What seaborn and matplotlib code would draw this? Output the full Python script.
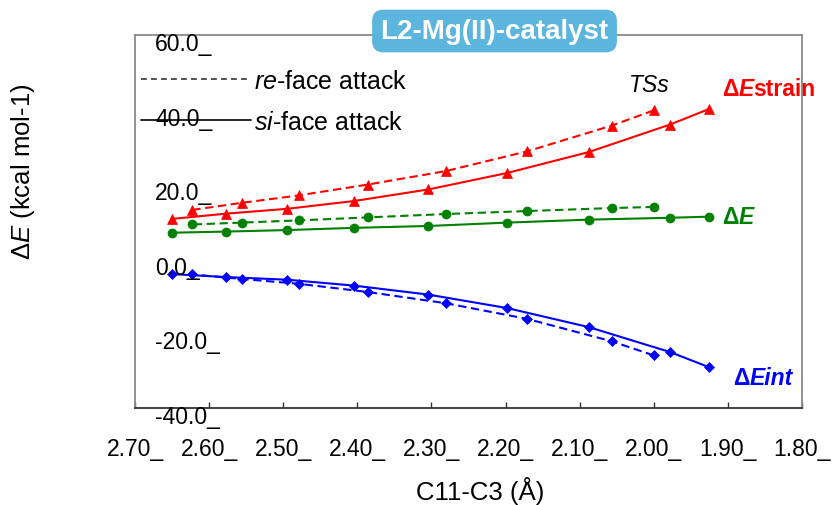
import matplotlib
matplotlib.use("Agg")
import matplotlib.pyplot as plt
import matplotlib.transforms as mtransforms
from matplotlib.lines import Line2D
import pandas as pd
import seaborn as sns

# ---------------- data ----------------
x_si = [2.650, 2.577, 2.495, 2.404, 2.304, 2.198, 2.088, 1.978, 1.925]
x_re = [2.623, 2.556, 2.479, 2.386, 2.281, 2.171, 2.057, 2.000]

strain_si = [10.7, 12.1, 13.4, 15.5, 18.6, 23.0, 28.6, 36.0, 40.2]
strain_re = [13.1, 15.0, 17.0, 19.9, 23.5, 28.8, 35.7, 39.8]
total_si = [7.0, 7.3, 7.7, 8.3, 8.8, 9.7, 10.5, 11.0, 11.3]
total_re = [9.2, 9.7, 10.3, 11.1, 12.0, 12.8, 13.6, 13.9]
int_si = [-4.1, -4.9, -5.6, -7.2, -9.6, -13.2, -18.3, -25.0, -29.1]
int_re = [-4.2, -5.4, -6.7, -8.9, -11.9, -16.1, -22.1, -25.9]

xtick_values = [2.70, 2.60, 2.50, 2.40, 2.30, 2.20, 2.10, 2.00, 1.90, 1.80]
xtick_labels = ["2.70_", "2.60_", "2.50_", "2.40_", "2.30_",
                "2.20_", "2.10_", "2.00_", "1.90_", "1.80_"]
ytick_values = [60, 40, 20, 0, -20, -40]
ytick_labels = ["60.0_", "40.0_", "20.0_", "0.0_", "-20.0_", "-40.0_"]

title_text = "L2-Mg(II)-catalyst"
legend_labels = ["$\\mathit{re}$-face attack", "$\\mathit{si}$-face attack"]

# ---------------- style ----------------
sns.set_style("white")
plt.rcParams["font.family"] = ["Liberation Sans", "DejaVu Sans"]
plt.rcParams["mathtext.fontset"] = "custom"
plt.rcParams["mathtext.rm"] = "Liberation Sans"
plt.rcParams["mathtext.it"] = "Liberation Sans:italic"
plt.rcParams["mathtext.bf"] = "Liberation Sans:bold"
plt.rcParams["text.color"] = "black"
plt.rcParams["axes.labelcolor"] = "black"
plt.rcParams["xtick.color"] = "black"
plt.rcParams["ytick.color"] = "black"

records = []
for comp, si_vals, re_vals in [("strain", strain_si, strain_re),
                               ("total", total_si, total_re),
                               ("int", int_si, int_re)]:
    for x, y in zip(x_si, si_vals):
        records.append({"d": x, "E": y, "comp": comp, "face": "si"})
    for x, y in zip(x_re, re_vals):
        records.append({"d": x, "E": y, "comp": comp, "face": "re"})
df = pd.DataFrame(records)

fig = plt.figure(figsize=(8.32, 5.06), dpi=100)
ax = fig.add_axes([135 / 832, 97 / 506, 667 / 832, 373 / 506])

colors = {"strain": "#FF0000", "total": "#008000", "int": "#0000FF"}
markers = {"strain": "^", "total": "o", "int": "D"}
msize = {"strain": 7.5, "total": 6.5, "int": 5.0}

for comp in ["strain", "total", "int"]:
    sub = df[df["comp"] == comp]
    sns.lineplot(data=sub, x="d", y="E", style="face", style_order=["re", "si"],
                 dashes={"re": (4, 2.2), "si": ""},
                 markers={"re": markers[comp], "si": markers[comp]},
                 color=colors[comp], markersize=msize[comp],
                 markeredgecolor=colors[comp], markeredgewidth=0.5,
                 linewidth=1.5, estimator=None, legend=False, ax=ax)

ax.set_xlim(2.70, 1.80)
ax.set_ylim(-40, 60)

# spines
for side in ["left", "top", "right"]:
    ax.spines[side].set_color("#8a8a8a")
    ax.spines[side].set_linewidth(1.3)
ax.spines["bottom"].set_color("#333333")
ax.spines["bottom"].set_linewidth(1.3)

# x ticks
ax.set_xticks(xtick_values)
ax.set_xticklabels(xtick_labels, fontsize=16.5, color="black")
ax.tick_params(axis="x", direction="in", length=4, width=1, color="#333333",
               pad=21, bottom=True, top=False)

# y ticks: labels drawn inside the frame
ax.set_yticks(ytick_values)
ax.tick_params(axis="y", length=0, labelleft=False, left=False)
ytrans = ax.get_yaxis_transform() + mtransforms.ScaledTranslation(0, -0.15, fig.dpi_scale_trans)
for v, lab in zip(ytick_values, ytick_labels):
    ax.text(0.03, v, lab, transform=ytrans, ha="left", va="baseline",
            fontsize=16.5, color="black", zorder=5)

# axis labels
ax.set_xlabel("C11-C3 (Å)", fontsize=18.5, color="black")
ax.xaxis.set_label_coords(0.517, -0.244)
ax.xaxis.label.set_va("baseline")
ax.set_ylabel("Δ$\\mathit{E}$ (kcal mol-1)", fontsize=18.5, color="black")
ax.yaxis.set_label_coords(-0.147, 0.635)

# title box
ax.text(0.539, 1.0107, title_text, transform=ax.transAxes, ha="center", va="center",
        color="white", fontsize=20, fontweight="bold", zorder=10, clip_on=False,
        bbox=dict(boxstyle="round,pad=0.3,rounding_size=0.4", fc="#5BB5DC", ec="none"))

# legend
handles = [Line2D([], [], color="#333333", lw=1.2, ls=(0, (3.5, 2.5))),
           Line2D([], [], color="black", lw=1.2)]
leg = ax.legend(handles, legend_labels, loc="upper left", bbox_to_anchor=(0.009, 0.910),
                frameon=False, borderpad=0, borderaxespad=0, handlelength=4.4,
                handletextpad=0.1, labelspacing=0.68, fontsize=18)
for t in leg.get_texts():
    t.set_color("black")

# annotations
ax.text(0.771, 0.866, "TSs", transform=ax.transAxes, ha="center", va="center",
        fontsize=16.5, fontstyle="italic", color="black")


def chain(x, y, parts, color, size=16.5):
    t = ax.text(x, y, parts[0][0], transform=ax.transAxes, ha="left", va="baseline",
                color=color, fontsize=size, fontweight="bold", fontstyle=parts[0][1])
    for s, st in parts[1:]:
        t = ax.annotate(s, xy=(1, 0), xycoords=t, ha="left", va="bottom",
                        color=color, fontsize=size, fontweight="bold", fontstyle=st)


chain(0.880, 0.838, [("Δ", "normal"), ("E", "italic"), ("strain", "normal")], "#FF0000")
chain(0.880, 0.495, [("Δ", "normal"), ("E", "italic")], "#008000")
chain(0.8966, 0.0635, [("Δ", "normal"), ("Eint", "italic")], "#0000FF")

fig.savefig("out.png", dpi=100)
